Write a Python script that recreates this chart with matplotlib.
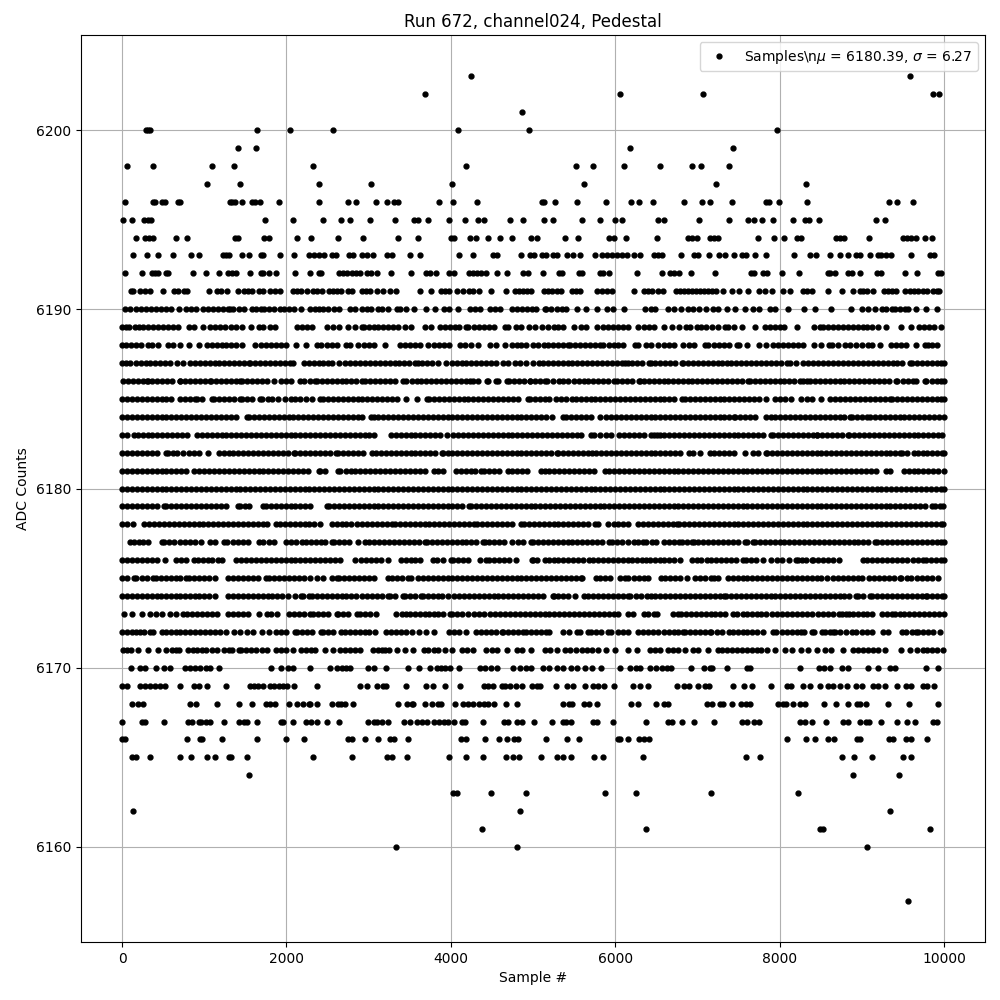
import matplotlib
matplotlib.use('Agg')
import matplotlib.pyplot as plt

# sample numbers, one list per ADC level
adc_6203 = [4248, 9592]
adc_6202 = [3690, 6057, 7065, 9872, 9945]
adc_6201 = [4868]
adc_6200 = [292, 316, 340, 1636, 2049, 2572, 4090, 4953, 7964]
adc_6199 = [1405, 1624, 6178, 7430]
adc_6198 = [57, 373, 1089, 1357, 2329, 4188, 5522, 5729, 6105, 6543, 6932, 7041, 7381]
adc_6197 = [1029, 1430, 2402, 3033, 4018, 5619, 7223, 8317]
adc_6196 = [32, 373, 405, 486, 518, 676, 709, 1308, 1340, 1369, 1454, 1580, 1612, 1673, 1904, 2390, 2754, 2851, 3094,
            3228, 3313, 3362, 3860, 4030, 4321, 5109, 5137, 5267, 5534, 5887, 6190, 6288, 6458, 6834, 7053, 7150, 7418,
            7830, 7870, 7989, 8329, 9337, 9434, 9629]
adc_6195 = [8, 117, 263, 312, 348, 1733, 2074, 2450, 2669, 2778, 3021, 3325, 3556, 3605, 3726, 3981, 4176, 4334, 4402,
            4722, 4880, 5133, 5243, 5595, 5814, 5996, 6081, 6518, 6591, 7017, 7381, 7620, 7685, 7782, 7916, 8159, 8304,
            8353, 8475, 9179, 9289]
adc_6194 = [166, 275, 324, 373, 652, 786, 1369, 1405, 1721, 1782, 2134, 2304, 2632, 2936, 3362, 3605, 4005, 4042, 4236,
            4301, 4447, 4601, 4747, 4977, 5048, 5388, 5546, 5919, 5984, 6130, 6506, 6883, 6932, 6992, 7158, 7207, 7256,
            7733, 7928, 8049, 8207, 8256, 8681, 8730, 8790, 9094, 9507, 9556, 9605, 9665, 9775, 9860]
adc_6193 = [130, 300, 433, 616, 834, 932, 1223, 1264, 1296, 1454, 1539, 1685, 1713, 1916, 2086, 2280, 2341, 2402, 2462,
            2560, 2608, 2766, 2815, 2925, 2985, 3058, 3228, 3289, 3507, 3629, 4103, 4273, 4516, 4564, 4856, 4965, 5014,
            5109, 5158, 5243, 5291, 5413, 5486, 5571, 5753, 5838, 5899, 5960, 6020, 6081, 6142, 6227, 6300, 6470, 6518,
            6567, 6798, 6956, 7004, 7138, 7260, 7332, 7442, 7539, 7588, 7697, 7831, 8171, 8365, 8438, 8620, 8730, 8839,
            8936, 8973, 9106, 9204, 9240, 9301, 9362, 9605, 9835, 9884]
adc_6192 = [32, 239, 360, 397, 433, 531, 563, 859, 1017, 1175, 1284, 1332, 1381, 1551, 1685, 1709, 1782, 1867, 2110,
            2292, 2402, 2426, 2645, 2693, 2742, 2803, 2851, 2900, 2985, 3033, 3106, 3276, 3519, 3702, 3746, 3823, 3981,
            4042, 4224, 4273, 4321, 4370, 4431, 4564, 4686, 4880, 4941, 5121, 5316, 5352, 5559, 5595, 5814, 5850, 5923,
            6263, 6567, 6664, 6713, 6774, 6919, 7219, 7648, 7685, 7794, 7843, 8025, 8232, 8584, 8620, 8669, 8839, 8876,
            8985, 9191, 9240, 9532, 9677, 9932, 9969]
adc_6191 = [105, 130, 215, 275, 336, 494, 628, 676, 749, 794, 1053, 1150, 1203, 1272, 1405, 1478, 1527, 1575, 1661,
            1709, 1794, 1855, 1916, 2074, 2134, 2183, 2256, 2329, 2377, 2438, 2523, 2572, 2620, 2669, 2754, 2803, 2925,
            2973, 3021, 3106, 3179, 3264, 3337, 3629, 3762, 3884, 3932, 3981, 4079, 4151, 4224, 4273, 4346, 4491, 4674,
            4783, 4832, 4880, 4929, 4976, 5133, 5182, 5230, 5291, 5340, 5474, 5522, 5571, 5777, 5838, 5899, 5960, 6235,
            6348, 6397, 6445, 6518, 6579, 6737, 6786, 6834, 6883, 6932, 6980, 7029, 7077, 7126, 7175, 7223, 7308, 7418,
            7503, 7612, 7746, 7818, 7912, 8037, 8122, 8280, 8329, 8390, 8584, 8766, 8899, 8973, 9021, 9070, 9143, 9276,
            9325, 9373, 9422, 9532, 9592, 9641, 9690, 9750, 9799, 9872, 9920, 9945]
adc_6190 = [40, 100, 170, 230, 290, 350, 410, 470, 530, 590, 690, 780, 840, 900, 985, 1050, 1110, 1170, 1230, 1290,
            1315, 1345, 1420, 1480, 1580, 1630, 1690, 1730, 1790, 1850, 1920, 1965, 2030, 2090, 2180, 2290, 2350, 2390,
            2450, 2510, 2580, 2640, 2770, 2840, 2915, 2975, 3030, 3120, 3160, 3240, 3350, 3380, 3450, 3550, 3700, 3810,
            3920, 3980, 4090, 4230, 4290, 4350, 4480, 4535, 4600, 4740, 4810, 4870, 4930, 4990, 5040, 5140, 5160, 5220,
            5290, 5350, 5400, 5530, 5640, 5780, 5900, 5970, 6110, 6365, 6440, 6490, 6640, 6710, 6800, 6885, 6950, 7020,
            7110, 7195, 7255, 7355, 7460, 7580, 7680, 7750, 7880, 7950, 8100, 8300, 8430, 8630, 8875, 9005, 9080, 9160,
            9250, 9290, 9365, 9400, 9470, 9525, 9565, 9665, 9785, 9915]
adc_6189 = [0, 50, 90, 155, 200, 255, 320, 380, 440, 500, 560, 620, 680, 810, 875, 990, 1070, 1130, 1190, 1250, 1330,
            1380, 1460, 1570, 1660, 1710, 1795, 1860, 2130, 2190, 2250, 2310, 2490, 2570, 2640, 2750, 2840, 2920, 2940,
            3000, 3060, 3120, 3180, 3240, 3300, 3360, 3440, 3520, 3690, 3760, 3870, 3930, 3990, 4050, 4100, 4190, 4215,
            4280, 4340, 4400, 4460, 4520, 4660, 4700, 4790, 4860, 4950, 5030, 5110, 5180, 5250, 5300, 5370, 5500, 5580,
            5640, 5780, 5850, 5910, 5970, 6030, 6090, 6150, 6280, 6345, 6410, 6470, 6590, 6690, 6780, 6860, 6910, 6990,
            7050, 7110, 7180, 7250, 7340, 7370, 7450, 7540, 7700, 7820, 7880, 7940, 8000, 8060, 8210, 8420, 8490, 8530,
            8590, 8650, 8710, 8770, 8830, 8890, 8950, 9010, 9070, 9130, 9200, 9290, 9475, 9605, 9695, 9760, 9820, 9880,
            9960]
adc_6188 = [0, 50, 110, 170, 230, 310, 370, 440, 555, 620, 710, 810, 940, 1030, 1090, 1150, 1210, 1270, 1330, 1390,
            1460, 1620, 1690, 1750, 1810, 1870, 1930, 1990, 2120, 2240, 2370, 2420, 2490, 2550, 2610, 2730, 2775, 2875,
            2940, 3000, 3060, 3200, 3380, 3440, 3500, 3560, 3620, 3720, 3800, 3860, 3920, 3980, 4110, 4170, 4240, 4330,
            4475, 4555, 4660, 4740, 4800, 4860, 4920, 5000, 5060, 5130, 5180, 5240, 5300, 5360, 5430, 5450, 5510, 5570,
            5630, 5690, 5750, 5820, 5850, 5930, 5980, 6040, 6100, 6240, 6280, 6380, 6430, 6520, 6590, 6650, 6710, 6830,
            6900, 6960, 7090, 7130, 7200, 7260, 7320, 7380, 7480, 7510, 7610, 7750, 7835, 7925, 7985, 8045, 8105, 8165,
            8225, 8285, 8420, 8500, 8600, 8640, 8710, 8795, 8855, 8935, 9000, 9080, 9130, 9220, 9355, 9420, 9480, 9540,
            9665, 9770, 9810, 9850, 9920]
adc_6187 = [0, 50, 100, 165, 225, 285, 345, 405, 465, 525, 585, 670, 740, 825, 885, 945, 1005, 1065, 1125, 1185, 1245,
            1305, 1365, 1425, 1485, 1540, 1560, 1620, 1680, 1740, 1800, 1860, 1920, 1980, 2040, 2085, 2210, 2270, 2330,
            2390, 2450, 2510, 2550, 2645, 2715, 2775, 2835, 2895, 2955, 3015, 3075, 3135, 3195, 3255, 3315, 3375, 3435,
            3495, 3565, 3595, 3655, 3715, 3775, 3850, 3940, 4010, 4070, 4130, 4190, 4250, 4310, 4370, 4430, 4490, 4550,
            4640, 4700, 4780, 4840, 4915, 5000, 5070, 5120, 5180, 5240, 5300, 5360, 5420, 5480, 5540, 5600, 5660, 5720,
            5780, 5840, 5900, 5960, 6020, 6080, 6120, 6150, 6210, 6270, 6330, 6410, 6430, 6490, 6550, 6610, 6670, 6730,
            6810, 6830, 6890, 6950, 7010, 7070, 7130, 7190, 7255, 7295, 7355, 7415, 7475, 7535, 7595, 7655, 7715, 7775,
            7835, 7895, 7955, 8015, 8085, 8125, 8205, 8290, 8350, 8410, 8470, 8530, 8590, 8650, 8715, 8775, 8835, 8895,
            8955, 9015, 9075, 9135, 9195, 9255, 9315, 9375, 9435, 9495, 9585, 9610, 9670, 9730, 9790, 9850, 9910, 9960,
            10000]
adc_6186 = [12, 70, 130, 190, 250, 304, 312, 370, 430, 490, 550, 610, 700, 709, 770, 830, 890, 950, 1010, 1073, 1085,
            1145, 1205, 1265, 1325, 1385, 1430, 1458, 1518, 1578, 1638, 1698, 1758, 1851, 1936, 1997, 2060, 2159, 2215,
            2290, 2349, 2369, 2430, 2490, 2550, 2610, 2670, 2730, 2790, 2850, 2916, 2957, 3017, 3077, 3137, 3197, 3257,
            3317, 3414, 3455, 3523, 3583, 3643, 3703, 3763, 3823, 3883, 3943, 4003, 4063, 4123, 4183, 4232, 4265, 4330,
            4435, 4455, 4548, 4577, 4686, 4710, 4770, 4830, 4890, 4961, 4967, 5030, 5090, 5150, 5170, 5240, 5312, 5370,
            5430, 5494, 5555, 5615, 5675, 5735, 5795, 5855, 5915, 5980, 6020, 6080, 6140, 6200, 6284, 6296, 6356, 6416,
            6476, 6536, 6600, 6640, 6700, 6760, 6820, 6880, 6940, 7000, 7060, 7120, 7180, 7240, 7300, 7360, 7420, 7480,
            7540, 7620, 7640, 7700, 7760, 7820, 7880, 7940, 8000, 8060, 8120, 8180, 8248, 8288, 8329, 8370, 8430, 8490,
            8550, 8610, 8670, 8730, 8790, 8850, 8910, 8970, 9030, 9090, 9150, 9210, 9270, 9330, 9422, 9434, 9500, 9560,
            9625, 9665, 9766, 9787, 9850, 9910, 9960, 10000]
adc_6185 = [0, 60, 120, 180, 240, 300, 360, 420, 480, 540, 600, 700, 770, 830, 890, 910, 970, 1090, 1120, 1180, 1240,
            1300, 1360, 1430, 1455, 1515, 1575, 1680, 1700, 1770, 1830, 1900, 1985, 2050, 2110, 2170, 2240, 2310, 2410,
            2445, 2505, 2565, 2625, 2685, 2745, 2805, 2865, 2925, 2985, 3045, 3105, 3165, 3225, 3285, 3345, 3450, 3590,
            3710, 3735, 3795, 3855, 3915, 3975, 4035, 4095, 4155, 4215, 4275, 4335, 4395, 4455, 4515, 4575, 4635, 4695,
            4755, 4815, 4940, 4960, 5020, 5080, 5140, 5200, 5280, 5340, 5400, 5470, 5520, 5580, 5640, 5700, 5760, 5820,
            5880, 5940, 6000, 6060, 6120, 6180, 6240, 6300, 6360, 6420, 6480, 6540, 6600, 6660, 6720, 6810, 6850, 6910,
            6970, 7030, 7090, 7150, 7210, 7270, 7330, 7390, 7450, 7510, 7570, 7630, 7690, 7750, 7830, 7950, 8010, 8070,
            8140, 8260, 8330, 8400, 8500, 8620, 8680, 8740, 8800, 8860, 8920, 8980, 9040, 9100, 9160, 9220, 9280, 9340,
            9370, 9430, 9490, 9550, 9610, 9670, 9730, 9790, 9850, 9910, 9960, 10000]
adc_6184 = [0, 60, 120, 180, 240, 300, 360, 420, 480, 540, 600, 660, 720, 780, 840, 900, 960, 1020, 1080, 1140, 1200,
            1260, 1320, 1380, 1520, 1545, 1605, 1665, 1725, 1785, 1845, 1905, 1965, 2025, 2085, 2145, 2205, 2265, 2325,
            2385, 2445, 2505, 2565, 2625, 2685, 2745, 2805, 2865, 2925, 3030, 3060, 3120, 3180, 3240, 3300, 3360, 3420,
            3480, 3540, 3600, 3660, 3720, 3780, 3840, 3900, 3960, 4020, 4080, 4140, 4200, 4260, 4320, 4380, 4440, 4500,
            4560, 4620, 4680, 4740, 4800, 4860, 4920, 4980, 5040, 5100, 5160, 5230, 5370, 5400, 5460, 5520, 5580, 5650,
            5700, 5820, 5890, 5950, 6010, 6070, 6130, 6190, 6250, 6310, 6370, 6430, 6490, 6550, 6610, 6670, 6730, 6790,
            6850, 6910, 6970, 7030, 7090, 7150, 7210, 7270, 7330, 7390, 7440, 7460, 7520, 7580, 7640, 7700, 7830, 7890,
            7950, 8010, 8070, 8130, 8190, 8250, 8310, 8370, 8430, 8490, 8550, 8610, 8670, 8730, 8790, 8860, 8880, 8940,
            9000, 9060, 9100, 9160, 9220, 9280, 9340, 9400, 9460, 9520, 9580, 9640, 9700, 9760, 9820, 9880, 9940, 10000]
adc_6183 = [0, 60, 150, 190, 250, 310, 370, 430, 490, 550, 610, 670, 730, 790, 910, 970, 1030, 1090, 1150, 1210, 1270,
            1330, 1390, 1450, 1510, 1570, 1630, 1690, 1750, 1810, 1870, 1930, 1990, 2050, 2110, 2170, 2230, 2290, 2350,
            2410, 2470, 2530, 2590, 2650, 2710, 2770, 2830, 2890, 2950, 3010, 3070, 3270, 3330, 3390, 3450, 3510, 3570,
            3630, 3690, 3750, 3810, 3870, 3950, 4030, 4090, 4150, 4210, 4270, 4330, 4390, 4450, 4510, 4570, 4630, 4690,
            4750, 4810, 4870, 4930, 4990, 5050, 5110, 5170, 5230, 5290, 5350, 5410, 5470, 5530, 5590, 5700, 5740, 5820,
            5890, 5950, 6050, 6110, 6170, 6230, 6290, 6350, 6430, 6470, 6510, 6540, 6600, 6660, 6720, 6780, 6840, 6900,
            6960, 7020, 7080, 7140, 7200, 7260, 7320, 7380, 7440, 7500, 7560, 7620, 7680, 7740, 7800, 7900, 7925, 7985,
            8045, 8105, 8165, 8225, 8285, 8345, 8405, 8450, 8460, 8520, 8580, 8640, 8700, 8760, 8830, 8850, 8910, 8970,
            9030, 9090, 9150, 9210, 9270, 9330, 9390, 9450, 9510, 9570, 9630, 9690, 9750, 9810, 9870, 9930, 9980]
adc_6182 = [0, 60, 120, 180, 240, 300, 360, 420, 539, 555, 615, 670, 740, 810, 870, 930, 1040, 1175, 1235, 1295, 1355,
            1415, 1475, 1535, 1595, 1655, 1715, 1775, 1835, 1895, 1955, 2015, 2095, 2110, 2170, 2230, 2290, 2350, 2410,
            2470, 2530, 2600, 2630, 2690, 2750, 2810, 2870, 2930, 3040, 3090, 3150, 3210, 3270, 3330, 3390, 3450, 3510,
            3570, 3630, 3690, 3750, 3810, 3890, 3900, 3960, 4020, 4080, 4140, 4200, 4260, 4320, 4380, 4440, 4500, 4560,
            4620, 4680, 4740, 4800, 4860, 4920, 4980, 5040, 5100, 5160, 5220, 5290, 5310, 5370, 5430, 5490, 5550, 5610,
            5670, 5720, 5770, 5830, 5890, 5950, 6010, 6070, 6130, 6190, 6250, 6310, 6370, 6430, 6490, 6550, 6610, 6670,
            6730, 6790, 6900, 6950, 7030, 7150, 7200, 7260, 7320, 7380, 7440, 7580, 7680, 7740, 7830, 7850, 7910, 7970,
            8030, 8090, 8150, 8210, 8270, 8330, 8390, 8450, 8510, 8570, 8630, 8690, 8750, 8810, 8870, 8930, 8990, 9050,
            9110, 9170, 9230, 9290, 9350, 9410, 9465, 9490, 9550, 9640, 9680, 9740, 9800, 9860, 9920, 9980, 10000]
adc_6181 = [0, 60, 120, 180, 240, 300, 360, 420, 480, 540, 600, 660, 720, 780, 870, 940, 1000, 1060, 1120, 1180, 1240,
            1300, 1360, 1420, 1480, 1540, 1600, 1660, 1720, 1780, 1840, 1900, 1960, 2020, 2080, 2140, 2200, 2260, 2390,
            2410, 2470, 2630, 2650, 2720, 2780, 2840, 2900, 2960, 3020, 3080, 3140, 3200, 3260, 3320, 3380, 3440, 3500,
            3560, 3620, 3680, 3800, 3850, 3910, 4060, 4120, 4180, 4240, 4300, 4370, 4400, 4470, 4530, 4590, 4690, 4750,
            4810, 4870, 4930, 5100, 5140, 5200, 5260, 5320, 5380, 5440, 5500, 5560, 5620, 5680, 5740, 5880, 5930, 5990,
            6050, 6110, 6170, 6230, 6290, 6350, 6410, 6470, 6530, 6590, 6650, 6710, 6770, 6830, 6890, 6950, 7010, 7070,
            7130, 7190, 7250, 7310, 7370, 7430, 7490, 7550, 7610, 7670, 7730, 7790, 7850, 7910, 7970, 8030, 8090, 8150,
            8210, 8270, 8330, 8390, 8450, 8510, 8570, 8630, 8690, 8750, 8810, 8870, 8930, 8990, 9050, 9110, 9170, 9300,
            9340, 9510, 9570, 9630, 9690, 9750, 9810, 9870, 9930, 10000]
adc_6180 = [0, 60, 120, 180, 240, 300, 360, 420, 480, 540, 600, 660, 720, 780, 840, 900, 960, 1020, 1080, 1140, 1200,
            1260, 1320, 1380, 1440, 1500, 1560, 1620, 1680, 1740, 1800, 1860, 1920, 1980, 2040, 2100, 2160, 2220, 2280,
            2340, 2400, 2460, 2520, 2580, 2640, 2700, 2760, 2820, 2880, 2940, 3000, 3060, 3120, 3180, 3240, 3300, 3360,
            3420, 3480, 3540, 3600, 3660, 3720, 3780, 3840, 3900, 3960, 4020, 4080, 4140, 4200, 4260, 4320, 4380, 4440,
            4500, 4560, 4620, 4680, 4740, 4800, 4860, 4920, 4980, 5040, 5100, 5160, 5220, 5280, 5340, 5400, 5460, 5520,
            5580, 5640, 5700, 5760, 5820, 5880, 5940, 6000, 6060, 6120, 6180, 6240, 6300, 6360, 6420, 6480, 6540, 6600,
            6660, 6720, 6780, 6840, 6900, 6960, 7020, 7080, 7140, 7200, 7260, 7320, 7380, 7440, 7500, 7560, 7620, 7680,
            7740, 7800, 7860, 7920, 7980, 8040, 8100, 8160, 8220, 8280, 8340, 8400, 8460, 8520, 8580, 8640, 8700, 8760,
            8820, 8880, 8940, 9000, 9060, 9120, 9180, 9240, 9300, 9360, 9420, 9480, 9540, 9600, 9660, 9720, 9780, 9840,
            9900, 9960, 10000]
adc_6179 = [0, 60, 120, 180, 240, 300, 360, 420, 510, 540, 600, 660, 720, 780, 840, 900, 960, 1020, 1080, 1140, 1200,
            1260, 1405, 1430, 1490, 1550, 1720, 1750, 1810, 1870, 1930, 1990, 2050, 2110, 2170, 2230, 2290, 2490, 2520,
            2580, 2640, 2700, 2760, 2820, 2880, 2940, 3000, 3060, 3120, 3180, 3240, 3300, 3360, 3420, 3480, 3540, 3600,
            3660, 3720, 3780, 3840, 3900, 3960, 4020, 4080, 4140, 4225, 4250, 4310, 4370, 4430, 4490, 4550, 4610, 4670,
            4730, 4790, 4850, 4910, 4970, 5030, 5090, 5150, 5210, 5270, 5330, 5390, 5450, 5510, 5570, 5630, 5690, 5750,
            5810, 5870, 5930, 5990, 6050, 6110, 6170, 6230, 6290, 6350, 6410, 6470, 6530, 6590, 6650, 6710, 6770, 6830,
            6890, 6950, 7010, 7070, 7130, 7190, 7250, 7310, 7370, 7430, 7490, 7550, 7610, 7670, 7730, 7790, 7850, 7910,
            7970, 8030, 8090, 8150, 8210, 8270, 8330, 8390, 8450, 8510, 8570, 8630, 8690, 8750, 8810, 8870, 8930, 8990,
            9050, 9110, 9170, 9230, 9290, 9350, 9410, 9470, 9530, 9590, 9650, 9710, 9770, 9860, 9890, 9950, 9990]
adc_6178 = [0, 60, 130, 270, 330, 390, 450, 510, 570, 630, 690, 750, 810, 870, 930, 990, 1050, 1110, 1170, 1230, 1290,
            1350, 1410, 1470, 1530, 1590, 1650, 1710, 1760, 1875, 1920, 1980, 2040, 2100, 2160,
            2220, 2280, 2340, 2410, 2550, 2610, 2670, 2730, 2790, 2860, 2920, 2980, 3040, 3100, 3160, 3220, 3290,
            3320, 3380, 3440, 3500, 3560, 3620, 3680, 3740, 3800, 3860, 3920, 3980, 4040, 4100, 4160, 4220, 4280,
            4320, 4380, 4440, 4500, 4560, 4620, 4680, 4740, 4860, 4890, 4950, 5010, 5070, 5130, 5190, 5250, 5310, 5370,
            5430, 5490, 5550, 5610, 5670, 5760, 5790, 5910, 5980, 6040, 6100, 6160, 6280, 6340, 6400, 6460, 6520, 6580,
            6640, 6700, 6750, 6780, 6840, 6900, 6960, 7020, 7080, 7140, 7200, 7260, 7320, 7380, 7440, 7500, 7560, 7620,
            7680, 7740, 7800, 7860, 7920, 7980, 8040, 8100, 8160, 8220, 8280, 8340, 8400, 8460, 8520, 8580, 8640, 8700,
            8760, 8820, 8880, 8940, 9000, 9060, 9120, 9180, 9240, 9300, 9360, 9420, 9480, 9540, 9600, 9660, 9720, 9780,
            9840, 9900, 9960, 9990]
adc_6177 = [93, 142, 200, 260, 318, 486, 507, 570, 630, 700, 770, 830, 890, 960, 1065, 1130, 1235, 1275, 1345, 1410,
            1470, 1530, 1660, 1720, 1790, 1850, 2000, 2060, 2120, 2185, 2235, 2295, 2355, 2415, 2475, 2555, 2575, 2635,
            2695, 2760, 2865, 2950, 3010, 3070, 3130, 3190, 3250, 3310, 3370, 3430, 3490, 3550, 3610, 3690, 3710, 3770,
            3830, 3890, 3950, 4010, 4070, 4130, 4190, 4250, 4310, 4390, 4410, 4470, 4530, 4590, 4650, 4740, 4820, 4880,
            4980, 5000, 5060, 5120, 5180, 5240, 5300, 5360, 5425, 5480, 5540, 5600, 5660, 5720, 5780, 5840, 5920, 5960,
            6020, 6080, 6160, 6230, 6280, 6340, 6370, 6450, 6500, 6590, 6650, 6710, 6780, 6810, 6870, 6930, 6960, 7010,
            7070, 7130, 7190, 7250, 7310, 7370, 7430, 7490, 7580, 7600, 7680, 7700, 7760, 7820, 7880, 7940, 8000, 8060,
            8120, 8180, 8240, 8300, 8360, 8420, 8480, 8540, 8600, 8660, 8720, 8780, 8840, 8900, 8960, 9020, 9080, 9160,
            9190, 9250, 9310, 9370, 9430, 9490, 9550, 9610, 9670, 9730, 9790, 9850, 9910, 9970, 10000]
adc_6176 = [0, 60, 120, 180, 240, 300, 360, 430, 520, 660, 720, 780, 880, 920, 980, 1040, 1100, 1170, 1210, 1390,
            1450, 1510, 1570, 1630, 1690, 1750, 1810, 1870, 1930, 1990, 2050, 2110, 2170, 2230, 2290, 2350, 2410, 2470,
            2530, 2590, 2650, 2840, 2910, 2970, 3030, 3090, 3150, 3230, 3390, 3450, 3510, 3570, 3630, 3780, 3830, 3910,
            4000, 4030, 4090, 4150, 4210, 4350, 4430, 4470, 4530, 4590, 4650, 4710, 4790, 4990, 5000, 5050, 5140, 5190,
            5250, 5310, 5370, 5430, 5490, 5550, 5610, 5680, 5730, 5790, 5850, 5910, 5970, 6030, 6090, 6150, 6210, 6270,
            6330, 6370, 6420, 6480, 6540, 6600, 6660, 6720, 6790, 6940, 6990, 7050, 7120, 7170, 7230, 7290, 7350, 7410,
            7470, 7560, 7590, 7650, 7710, 7800, 7890, 7970, 8030, 8120, 8200, 8220, 8270, 8320, 8390, 8410, 8470, 8530,
            8590, 8650, 8720, 9010, 9070, 9130, 9190, 9250, 9310, 9370, 9430, 9490, 9550, 9620, 9680, 9750, 9780, 9840,
            9900, 9960, 10000]
adc_6175 = [0, 60, 150, 175, 240, 300, 380, 410, 470, 530, 590, 650, 710, 780, 820, 880, 940, 1000, 1060, 1130, 1290,
            1350, 1410, 1470, 1530, 1590, 1650, 1750, 1790, 1850, 1910, 1970, 2030, 2090, 2150, 2210, 2290, 2370, 2440,
            2550, 2610, 2640, 2700, 2760, 2820, 2880, 2940, 3000, 3060, 3230, 3280, 3340, 3400, 3480, 3520,
            3600, 3660, 3720, 3780, 3840, 3900, 3960, 4020, 4080, 4140, 4200, 4260, 4320, 4380, 4440, 4500, 4560, 4620,
            4680, 4740, 4800, 4860, 4920, 4980, 5040, 5100, 5160, 5220, 5280, 5340, 5400, 5460, 5520, 5580, 5600, 5770,
            5820, 5880, 5940, 6060, 6120, 6150, 6230, 6290, 6350, 6400, 6560, 6610, 6670, 6730, 6790, 6870, 6970, 7030,
            7090, 7170, 7200, 7250, 7370, 7430, 7490, 7550, 7610, 7670, 7730, 7790, 7850, 7910, 7970, 8030, 8090, 8150,
            8210, 8270, 8330, 8390, 8450, 8510, 8580, 8650, 8710, 8770, 8830, 8890, 8950, 9000, 9090, 9150, 9210, 9270,
            9330, 9390, 9460, 9480, 9550, 9600, 9670, 9730, 9790, 9850, 9930]
adc_6174 = [0, 60, 120, 180, 240, 300, 360, 430, 470, 530, 590, 650, 710, 770, 830, 890, 940, 1000, 1060, 1130, 1290,
            1350, 1410, 1470, 1530, 1590, 1650, 1710, 1770, 1830, 1890, 1950, 2020, 2100, 2180, 2200, 2280, 2310, 2370,
            2430, 2490, 2550, 2610, 2670, 2730, 2790, 2850, 2920, 2980, 3040, 3100, 3160, 3240, 3260, 3320, 3420, 3440,
            3500, 3560, 3640, 3660, 3720, 3780, 3840, 3890, 3970, 4040, 4100, 4160, 4220, 4280, 4340, 4400, 4460, 4520,
            4580, 4640, 4700, 4760, 4820, 4880, 4940, 5000, 5060, 5120, 5240, 5250, 5310, 5370, 5430, 5510, 5620, 5670,
            5730, 5790, 5850, 5910, 5970, 6030, 6090, 6150, 6180, 6250, 6310, 6390, 6430,
            6490, 6550, 6610, 6670, 6730, 6790, 6850, 6910, 6970, 7030, 7090, 7150, 7210, 7270, 7330, 7350, 7410, 7470,
            7530, 7590, 7650, 7710, 7770, 7830, 7890, 7950, 8010, 8070, 8130, 8190, 8250, 8310, 8370, 8430, 8490, 8550,
            8610, 8670, 8730, 8790, 8850, 8930, 8950, 9010, 9100, 9130, 9190, 9250, 9310, 9370, 9430, 9490, 9550, 9610,
            9670, 9730, 9780, 9800, 9860, 9920, 9980, 10000]
adc_6173 = [25, 120, 240, 340, 410, 480, 580, 660, 740, 790, 850, 910, 970, 1030, 1090, 1150, 1290, 1350, 1410, 1470,
            1530, 1670, 1760, 1810, 1880, 2030, 2090, 2150, 2210, 2290, 2320, 2380, 2440, 2500, 2610, 2630, 2690, 2750,
            2860, 2900, 2960, 3020, 3090, 3330, 3410, 3450, 3500, 3560, 3620, 3680, 3740, 3800, 3850,
            3900, 3990, 4020, 4080, 4140, 4210, 4280, 4340, 4400, 4480, 4540, 4600, 4660, 4720, 4780, 4840, 4900, 4960,
            5020, 5080, 5140, 5200, 5260, 5320, 5380, 5440, 5500, 5560, 5620, 5680, 5740, 5800, 5860, 5920, 5980, 6040,
            6160, 6220, 6350, 6400, 6470, 6510, 6700, 6770, 6800, 6860, 6920, 6980, 7040, 7100, 7160, 7220,
            7280, 7340, 7430, 7480, 7560, 7600, 7660, 7720, 7780, 7840, 7910, 7970, 8030, 8090, 8150, 8210, 8270, 8330,
            8390, 8470, 8530, 8590, 8650, 8720, 8760, 8810, 8850, 8890, 8950, 9010, 9070, 9130, 9250, 9310, 9370, 9400,
            9460, 9520, 9580, 9640, 9700, 9760, 9820, 9880, 9940, 10000]
adc_6172 = [0, 60, 120, 170, 220, 270, 340, 380, 480, 530, 590, 650, 710, 770, 830, 890, 950, 1010, 1070, 1130, 1190,
            1260, 1360, 1440, 1520, 1590, 1700, 1790, 1870, 1930, 1990, 2110, 2130, 2190, 2250, 2310, 2420, 2450, 2510,
            2570, 2660, 2710, 2770, 2830, 2890, 2950, 3010, 3080, 3210, 3270, 3330, 3390, 3460, 3530, 3610, 3700, 3800,
            3980, 4040, 4100, 4190, 4310, 4370, 4430, 4490, 4550, 4620, 4640, 4700, 4760, 4820, 4880, 4920, 4980,
            5040, 5100, 5160, 5190, 5370, 5440, 5530, 5570, 5670, 5710, 5770, 5830, 5910, 5950, 6030, 6090, 6160, 6280,
            6340, 6400, 6460, 6520, 6590, 6650, 6710, 6770, 6820, 6850, 6910, 6970, 7030, 7090, 7150, 7170, 7240, 7300,
            7390, 7430, 7490, 7550, 7610, 7670, 7730, 7800, 7920, 7960, 8030, 8090, 8150, 8210, 8260, 8300, 8400, 8420,
            8520, 8550, 8620, 8650, 8680, 8730, 8810, 8880, 8930, 9000, 9060, 9130, 9260, 9320, 9490, 9540, 9610, 9660,
            9690, 9750, 9810, 9870, 9950]
adc_6171 = [12, 60, 110, 190, 312, 433, 530, 608, 660, 697, 798, 860, 911, 972, 1017, 1090, 1154, 1235, 1296, 1336,
            1418, 1450, 1510, 1570, 1630, 1701, 1766, 1867, 1930, 2000, 2078, 2171, 2236, 2300, 2349, 2475, 2572, 2653,
            2715, 2775, 2835, 2896, 3058, 3120, 3159, 3200, 3252, 3341, 3442, 3544, 3673, 3726, 3790, 3850, 3929, 4010,
            4131, 4192, 4273, 4431, 4496, 4560, 4678, 4800, 4872, 4980, 5150, 5210, 5291, 5392, 5455, 5522, 5595, 5656,
            5716, 5797, 5887, 6000, 6162, 6263, 6425, 6490, 6550, 6648, 6709, 6770, 6850, 6944, 7012, 7126, 7247, 7300,
            7360, 7420, 7480, 7540, 7600, 7660, 7720, 7780, 7850, 7944, 8065, 8146, 8256, 8341, 8450, 8551, 8632, 8774,
            8896, 8956, 9020, 9080, 9140, 9200, 9280, 9475, 9584, 9677, 9740, 9800, 9860, 9920, 9990]
adc_6170 = [109, 215, 283, 409, 506, 579, 770, 830, 890, 950, 1020, 1065, 1175, 1810, 1932, 2013, 2074, 2292, 2535,
            2612, 2673, 2730, 2774, 2997, 3066, 3208, 3483, 3617, 3750, 3827, 3876, 3930, 3990, 4103, 4354, 4420, 4490,
            4556, 4759, 4840, 4913, 4970, 5125, 5198, 5291, 5364, 5465, 5534, 5636, 5716, 5830, 6061, 6182, 6250, 6304,
            6425, 6494, 6567, 6628, 6680, 6919, 7085, 7150, 7175, 7361, 7600, 7640, 8244, 8479, 8543, 8620, 8754, 8835,
            9082, 9204, 9341, 9410, 9787, 9933]
adc_6169 = [0, 61, 215, 280, 344, 397, 466, 527, 700, 871, 940, 1029, 1260, 1551, 1600, 1648, 1709, 1794, 1843, 1904,
            1960, 2005, 2086, 2377, 2900, 2985, 3106, 3170, 3208, 3459, 3698, 3787, 3933, 4111, 4406, 4455, 4508, 4617,
            4658, 4722, 4791, 4868, 4988, 5050, 5081, 5279, 5413, 5486, 5636, 5729, 5789, 5862, 5984, 6215, 6300, 6397,
            6749, 6834, 6895, 7004, 7094, 7142, 7430, 7563, 7660, 7891, 8086, 8134, 8280, 8365, 8495, 8592, 8650, 8733,
            8815, 8936, 9009, 9139, 9199, 9289, 9434, 9544, 9605, 9746, 9799, 9884]
adc_6168 = [117, 190, 251, 822, 895, 1150, 1418, 1575, 1746, 1800, 1855, 2037, 2134, 2207, 2270, 2288, 2377, 2552,
            2632, 2661, 2718, 2815, 3362, 3463, 3530, 3544, 3690, 3775, 3848, 3876, 4054, 4151, 4212, 4273, 4346, 4406,
            4455, 4528, 4674, 4807, 5364, 5433, 5474, 5619, 5684, 5777, 6190, 6283, 6494, 6591, 6648, 7114, 7175, 7276,
            7316, 7426, 7527, 7588, 7640, 7976, 8045, 8074, 8167, 8244, 8304, 8535, 8693, 8839, 8948, 8977, 9058, 9325,
            9580, 9933]
adc_6167 = [0, 239, 283, 510, 798, 850, 932, 960, 1017, 1073, 1235, 1418, 1480, 1519, 1636, 1928, 1964, 2074, 2232,
            2296, 2369, 2499, 2645, 2997, 3060, 3098, 3167, 3240, 3430, 3503, 3592, 3645, 3714, 3799, 3860, 3920, 3969,
            4038, 4131, 4171, 4394, 4645, 4698, 4807, 4872, 5014, 5230, 5364, 5401, 5461, 5725, 5777, 5972, 6373, 6640,
            6697, 6810, 6956, 7199, 7539, 7600, 7685, 7750, 8244, 8309, 8390, 8560, 8774, 8827, 8985, 9046, 9094, 9240,
            9434, 9556, 9653, 9872, 9920]
adc_6166 = [0, 40, 786, 944, 972, 1211, 1636, 1989, 2219, 2754, 2794, 2961, 3118, 3260, 3309, 3483, 4127, 4180, 4418,
            4589, 4686, 4767, 4820, 5158, 5413, 5559, 6032, 6061, 6154, 6288, 6348, 6409, 8086, 8317, 8426, 8584, 8657,
            8948, 8985, 9337, 9386, 9544, 9605, 9799]
adc_6165 = [126, 170, 336, 700, 834, 1029, 1126, 1296, 1324, 1515, 2317, 2803, 3228, 3289, 3471, 3981, 4188, 4394,
            4674, 4759, 4832, 5097, 5291, 5364, 5461, 5741, 5850, 6336, 7588, 7758, 8754, 8900, 9131, 9507, 9605]
adc_6164 = [1539, 8888, 9459]
adc_6163 = [4030, 4070, 4491, 4917, 5875, 6251, 7162, 8219]
adc_6162 = [130, 4844, 9349]
adc_6161 = [4382, 6373, 8491, 8523, 9835]
adc_6160 = [3337, 4807, 9070]
adc_6157 = [9568]

levels = {
    6203: adc_6203, 6202: adc_6202, 6201: adc_6201, 6200: adc_6200, 6199: adc_6199, 6198: adc_6198, 6197: adc_6197,
    6196: adc_6196, 6195: adc_6195, 6194: adc_6194, 6193: adc_6193, 6192: adc_6192, 6191: adc_6191, 6190: adc_6190,
    6189: adc_6189, 6188: adc_6188, 6187: adc_6187, 6186: adc_6186, 6185: adc_6185, 6184: adc_6184, 6183: adc_6183,
    6182: adc_6182, 6181: adc_6181, 6180: adc_6180, 6179: adc_6179, 6178: adc_6178, 6177: adc_6177, 6176: adc_6176,
    6175: adc_6175, 6174: adc_6174, 6173: adc_6173, 6172: adc_6172, 6171: adc_6171, 6170: adc_6170, 6169: adc_6169,
    6168: adc_6168, 6167: adc_6167, 6166: adc_6166, 6165: adc_6165, 6164: adc_6164, 6163: adc_6163, 6162: adc_6162,
    6161: adc_6161, 6160: adc_6160, 6157: adc_6157,
}

samples = []
counts = []
for level, xs in levels.items():
    samples += xs
    counts += [level] * len(xs)

plt.figure(figsize=(10, 10))
plt.plot(samples, counts, "k.", markersize=7, label=r"Samples\n$\mu$ = 6180.39, $\sigma$ = 6.27")
plt.xlabel("Sample #")
plt.ylabel("ADC Counts")
plt.title("Run 672, channel024, Pedestal")
plt.grid(True)
plt.legend(loc="upper right")
plt.subplots_adjust(left=0.081, right=0.985, top=0.965, bottom=0.058)
plt.savefig("out.png", dpi=100)
